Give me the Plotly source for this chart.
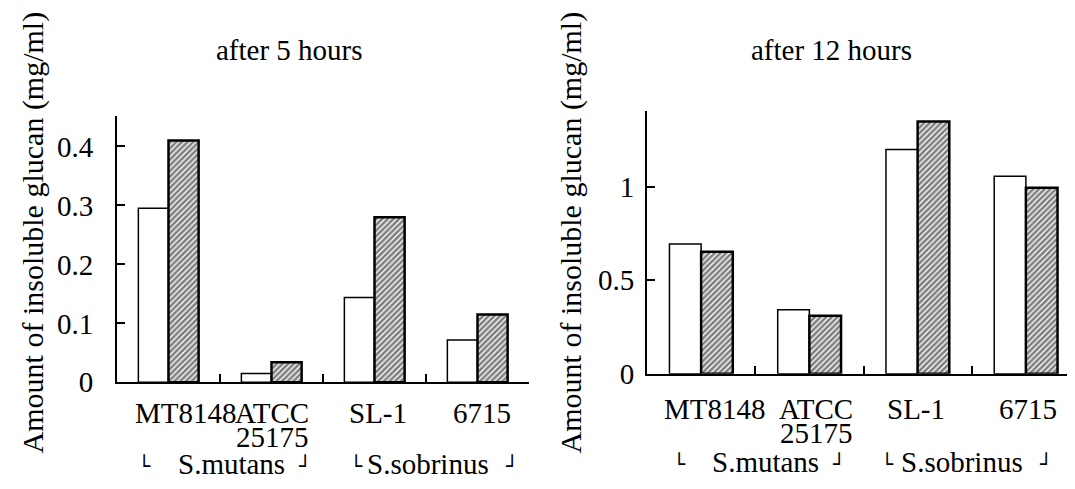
import plotly.graph_objects as go

W, H = 1075, 489

# ---------------- data ----------------
categories = ["MT8148", "ATCC 25175", "SL-1", "6715"]
label_top = ["MT8148", "ATCC", "SL-1", "6715"]
label_bottom = ["", "25175", "", ""]
groups = ["S.mutans", "S.sobrinus"]

h5_open = [0.295, 0.015, 0.144, 0.072]
h5_hatched = [0.41, 0.034, 0.28, 0.115]
h12_open = [0.694, 0.342, 1.20, 1.057]
h12_hatched = [0.653, 0.31, 1.35, 0.995]

y5_ticks = [0, 0.1, 0.2, 0.3, 0.4]
y5_ticktext = ["0", "0.1", "0.2", "0.3", "0.4"]
y12_ticks = [0, 0.5, 1]
y12_ticktext = ["0", "0.5", "1"]

titles = ["after 5 hours", "after 12 hours"]
ytitle = "Amount of insoluble glucan (mg/ml)"

FONT = "Times New Roman, Liberation Serif, DejaVu Serif, serif"
FS = 29


def px(x):
    return x / W


def py(y):
    return 1 - y / H


open_marker = dict(color="white", line=dict(color="black", width=1.5))
hatch_marker = dict(
    color="white",
    pattern=dict(shape="/", fgcolor="black", bgcolor="white", size=4, solidity=0.66),
    line=dict(color="black", width=2.5),
)

fig = go.Figure()
fig.add_trace(go.Bar(x=categories, y=h5_open, xaxis="x", yaxis="y", marker=open_marker, name="open"))
fig.add_trace(go.Bar(x=categories, y=h5_hatched, xaxis="x", yaxis="y", marker=hatch_marker, name="hatched"))
fig.add_trace(go.Bar(x=categories, y=h12_open, xaxis="x2", yaxis="y2", marker=open_marker, name="open"))
fig.add_trace(go.Bar(x=categories, y=h12_hatched, xaxis="x2", yaxis="y2", marker=hatch_marker, name="hatched"))

xcommon = dict(
    type="category", range=[-0.5, 3.5], showline=True, linecolor="black", linewidth=2,
    ticks="inside", tickson="boundaries", ticklen=8, tickwidth=2, tickcolor="black",
    showticklabels=False, showgrid=False, zeroline=False,
)
ycommon = dict(
    showline=True, linecolor="black", linewidth=2, ticks="inside", ticklen=8,
    tickwidth=2, tickcolor="black", showgrid=False, zeroline=False,
    tickfont=dict(family=FONT, size=FS, color="black"),
)

fig.update_layout(
    width=W, height=H,
    margin=dict(l=0, r=0, t=0, b=0),
    paper_bgcolor="white", plot_bgcolor="white",
    showlegend=False, barmode="group", bargap=0.415, bargroupgap=0,
    font=dict(family=FONT, size=FS, color="black"),
    xaxis=dict(domain=[px(109), px(521)], anchor="y", **xcommon),
    xaxis2=dict(domain=[px(639), px(1072)], anchor="y2", **xcommon),
    yaxis=dict(domain=[py(387), py(112)], anchor="x", range=[0, 0.451],
               tickvals=y5_ticks, ticktext=y5_ticktext, ticklabelstandoff=16, **ycommon),
    yaxis2=dict(domain=[py(378), py(107)], anchor="x2", range=[0, 1.404],
                tickvals=y12_ticks, ticktext=y12_ticktext, ticklabelstandoff=5, **ycommon),
)

anns = []


def add_text(text, x, y, xanchor="center", yanchor="bottom", size=FS, angle=0,
             xref="paper", xshift=0, family=FONT):
    anns.append(dict(text=text, x=x, y=y, xref=xref, yref="paper", xanchor=xanchor,
                     yanchor=yanchor, showarrow=False, textangle=angle, xshift=xshift,
                     borderpad=0, borderwidth=0,
                     font=dict(family=family, size=size, color="black")))


# panel titles (baseline ~54)
add_text(titles[0], px(281), py(60))
add_text(titles[1], px(823), py(60))

# y-axis titles
add_text(ytitle, px(25), py(232), yanchor="middle", size=30, angle=-90)
add_text(ytitle, px(563), py(232), yanchor="middle", size=30, angle=-90)

# category labels (x given as category index on each category axis)
left_shift_top = [17, 37, 3.5, 4.5]
right_shift_top = [13.5, 43.5, -1.5, 2.5]
anchors = ["center", "right", "center", "center"]
for xr, shifts, base1, base2 in [("x", left_shift_top, 429, 454), ("x2", right_shift_top, 425, 450)]:
    for i in range(len(categories)):
        add_text(label_top[i], i, py(base1 + 6), xanchor=anchors[i], xref=xr, xshift=shifts[i])
        if label_bottom[i]:
            add_text(label_bottom[i], i, py(base2 + 6), xanchor=anchors[i], xref=xr, xshift=shifts[i])

# species group labels with bracket marks
for base, lb1, c1, rb1, lb2, c2, rb2 in [
    (482, 130, 223, 290, 342, 419.5, 497),
    (480, 665, 757.5, 824, 873, 953.5, 1031),
]:
    add_text(groups[0], px(c1), py(base + 6))
    add_text(groups[1], px(c2), py(base + 6))
    for xl, ch in [(lb1, "\u2514"), (rb1, "\u2518"), (lb2, "\u2514"), (rb2, "\u2518")]:
        add_text(ch, px(xl), py(base + 4), xanchor="left", size=20, family="DejaVu Sans")

fig.update_layout(annotations=anns)
fig.write_html("out.html")
